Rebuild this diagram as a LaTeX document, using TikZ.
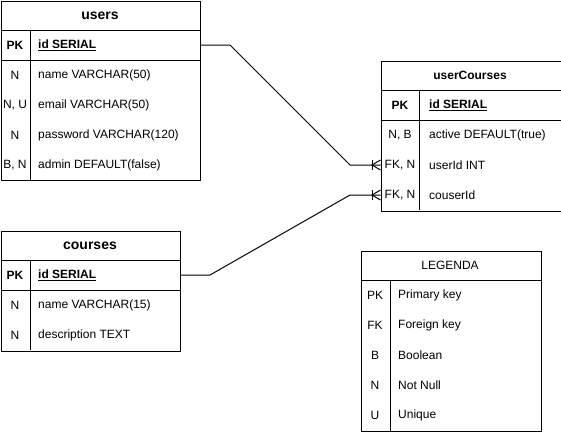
\documentclass[tikz,border=0pt]{standalone}
\usepackage{fontspec}
\setmainfont{Liberation Sans}
\usetikzlibrary{positioning}

\tikzset{
	tbl/.style={draw, line width=1pt, inner sep=0pt, anchor=north west},
	ttl/.style={font=\fontsize{14}{16}\selectfont\bfseries},
	ttlsmall/.style={font=\fontsize{12}{14}\selectfont\bfseries},
	key/.style={font=\fontsize{12}{14}\selectfont},
	fld/.style={font=\fontsize{12}{14}\selectfont, anchor=west, inner sep=0pt},
	pkfld/.style={fld, font=\fontsize{12}{14}\selectfont\bfseries},
	rel/.style={line width=1pt}
}

\begin{document}
\begin{tikzpicture}[x=1pt, y=-1pt]
	\useasboundingbox (0,0) rectangle (561,431);

	% users table
	\node[tbl, minimum width=199pt, minimum height=179pt] (users) at (0.5,0.5) {};
	\draw[line width=1pt] (0.5,30) -- (200,30);
	\draw[line width=1pt] (0.5,60) -- (200,60);
	\draw[line width=1pt] (30,30) -- (30,180);
	\node[ttl] (usersTitle) at (100,15.5) {users};
	\node[key, font=\fontsize{12}{14}\selectfont\bfseries] (usersPKkey) at (15,45) {PK};
	\node[pkfld] (usersPK) at (38,45) {\underline{id SERIAL}};
	\node[key] (usersK1) at (15,75) {N};
	\node[fld] (usersF1) at (38,75) {name VARCHAR(50)};
	\node[key] (usersK2) at (15,105) {N, U};
	\node[fld] (usersF2) at (38,105) {email VARCHAR(50)};
	\node[key] (usersK3) at (15,135) {N};
	\node[fld] (usersF3) at (38,135) {password VARCHAR(120)};
	\node[key] (usersK4) at (15,165) {B, N};
	\node[fld] (usersF4) at (38,165) {admin DEFAULT(false)};

	% courses table
	\node[tbl, minimum width=179pt, minimum height=120pt] (courses) at (0.5,230.5) {};
	\draw[line width=1pt] (0.5,260) -- (180,260);
	\draw[line width=1pt] (0.5,290) -- (180,290);
	\draw[line width=1pt] (30,260) -- (30,350);
	\node[ttl] (coursesTitle) at (90,246) {courses};
	\node[key, font=\fontsize{12}{14}\selectfont\bfseries] (coursesPKkey) at (15,275) {PK};
	\node[pkfld] (coursesPK) at (38,275) {\underline{id SERIAL}};
	\node[key] (coursesK1) at (15,305) {N};
	\node[fld] (coursesF1) at (38,305) {name VARCHAR(15)};
	\node[key] (coursesK2) at (15,335) {N};
	\node[fld] (coursesF2) at (38,335) {description TEXT};

	% userCourses table
	\node[tbl, minimum width=180pt, minimum height=150pt] (userCourses) at (380.5,60.5) {};
	\draw[line width=1pt] (380.5,90) -- (560.5,90);
	\draw[line width=1pt] (380.5,120) -- (560.5,120);
	\draw[line width=1pt] (419,90) -- (419,210);
	\node[ttlsmall] (ucTitle) at (470,75) {userCourses};
	\node[key, font=\fontsize{12}{14}\selectfont\bfseries] (ucPKkey) at (400,105) {PK};
	\node[pkfld] (ucPK) at (429,105) {\underline{id SERIAL}};
	\node[key] (ucK1) at (400,135) {N, B};
	\node[fld] (ucF1) at (429,135) {active DEFAULT(true)};
	\node[key] (ucK2) at (400,165) {FK, N};
	\node[fld] (ucF2) at (429,165) {userId INT};
	\node[key] (ucK3) at (400,195) {FK, N};
	\node[fld] (ucF3) at (429,195) {couserId};

	% legend
	\node[tbl, minimum width=180pt, minimum height=180pt] (legend) at (360.5,250.5) {};
	\draw[line width=1pt] (360.5,280) -- (540.5,280);
	\draw[line width=1pt] (390,280) -- (390,430.5);
	\node[key] (legendTitle) at (450,265) {LEGENDA};
	\node[key] (lgK1) at (375,295) {PK};
	\node[fld] (lgF1) at (398,295) {Primary key};
	\node[key] (lgK2) at (375,325) {FK};
	\node[fld] (lgF2) at (398,325) {Foreign key};
	\node[key] (lgK3) at (375,355) {B};
	\node[fld] (lgF3) at (398,355) {Boolean};
	\node[key] (lgK4) at (375,385) {N};
	\node[fld] (lgF4) at (398,385) {Not Null};
	\node[key] (lgK5) at (375,415) {U};
	\node[fld] (lgF5) at (398,415) {Unique};

	% relations
	\coordinate (usersOut) at (200,45);
	\coordinate (coursesOut) at (180,275);
	\coordinate (ucIn1) at (380.5,165);
	\coordinate (ucIn2) at (380.5,195);
	\draw[rel] (usersOut) -- ++(30,0) -- (350,165) -- (ucIn1);
	\draw[rel] (coursesOut) -- ++(30,0) -- (350,195) -- (ucIn2);
	% crow's feet
	\draw[rel] (372,160) -- (372,170);
	\draw[rel] (ucIn1) ++(0,-5) -- (372,165) -- ++(8.5,5);
	\draw[rel] (372,190) -- (372,200);
	\draw[rel] (ucIn2) ++(0,-5) -- (372,195) -- ++(8.5,5);

\end{tikzpicture}
\end{document}
